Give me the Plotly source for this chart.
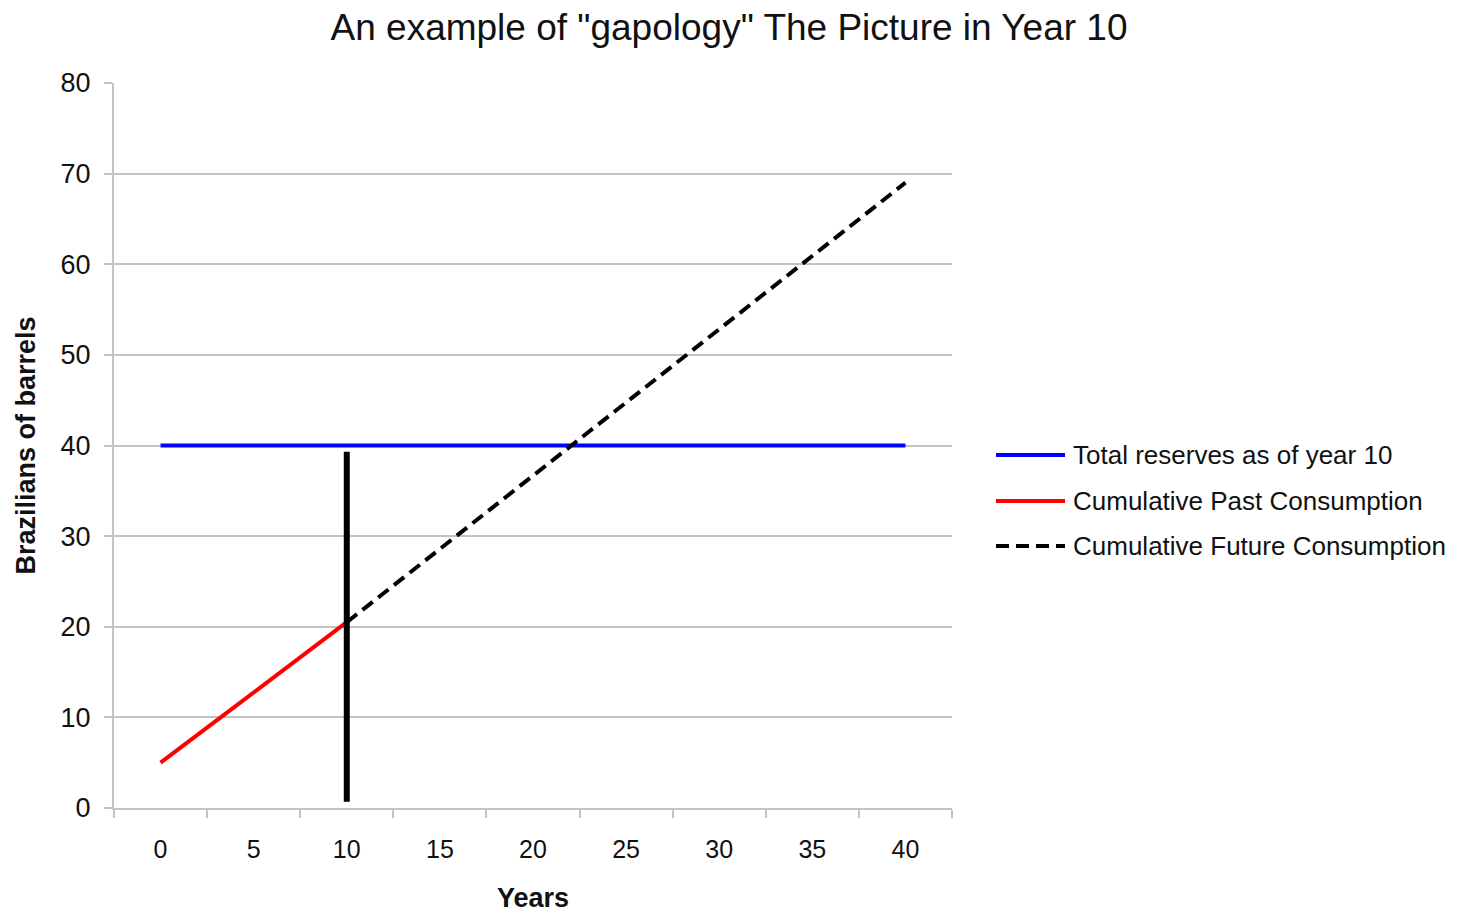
import plotly.graph_objects as go

# Data
reserve_years = [0, 40]
reserve_values = [40, 40]
past_years = [0, 10]
past_values = [5, 20.5]
future_years = [10, 40]
future_values = [20.5, 69]
marker_years = [10, 10]
marker_values = [0.7, 39.3]

x_tick_vals = [0, 5, 10, 15, 20, 25, 30, 35, 40]
x_tick_text = ["0", "5", "10", "15", "20", "25", "30", "35", "40"]
y_tick_vals = [0, 10, 20, 30, 40, 50, 60, 70, 80]

series_names = ["Total reserves as of year 10",
                "Cumulative Past Consumption",
                "Cumulative Future Consumption"]
series_colors = ["#0000ff", "#ff0000", "#000000"]
series_dash = ["solid", "solid", "13px,7px"]

FONT = "Liberation Sans, Arial, sans-serif"
GRID = "#c3c3c3"
TXT = "#111111"

# page body has an 8px margin, so the figure is sized to fit the viewport
W, H = 1456, 905
L, R, T, B = 106, 512, 75, 105
PW, PH = W - L - R, H - T - B


def px_x(px):
    return (px - L) / PW


def px_y(py):
    return (H - B - py) / PH


fig = go.Figure()
fig.add_trace(go.Scatter(x=reserve_years, y=reserve_values, mode="lines",
                         name=series_names[0],
                         line=dict(color=series_colors[0], width=4)))
fig.add_trace(go.Scatter(x=past_years, y=past_values, mode="lines",
                         name=series_names[1],
                         line=dict(color=series_colors[1], width=4)))
fig.add_trace(go.Scatter(x=future_years, y=future_values, mode="lines",
                         name=series_names[2],
                         line=dict(color=series_colors[2], width=4,
                                   dash=series_dash[2])))
fig.add_trace(go.Scatter(x=marker_years, y=marker_values, mode="lines",
                         name="Year 10",
                         line=dict(color="#000000", width=6)))

# manual legend (long line samples as in the original)
legend_rows = [447, 493, 538]
for name, color, dash, row in zip(series_names, series_colors, series_dash, legend_rows):
    fig.add_shape(type="line", xref="paper", yref="paper",
                  x0=px_x(988), x1=px_x(1057), y0=px_y(row), y1=px_y(row),
                  line=dict(color=color, width=4, dash=dash))
    fig.add_annotation(xref="paper", yref="paper", x=px_x(1063), y=px_y(row),
                       xanchor="left", yanchor="middle", showarrow=False,
                       text=name, font=dict(size=26, family=FONT, color=TXT))

fig.update_layout(
    width=W, height=H,
    paper_bgcolor="white", plot_bgcolor="white",
    margin=dict(l=L, r=R, t=T, b=B, autoexpand=False),
    font=dict(family=FONT, color=TXT),
    title=dict(text='An example of "gapology" The Picture in Year 10',
               x=721 / W, xanchor="center", y=1 - 19 / H, yanchor="middle",
               font=dict(size=37, family=FONT, color=TXT)),
    showlegend=False,
    xaxis=dict(range=[-2.5, 42.5], tickvals=x_tick_vals, ticktext=x_tick_text,
               ticks="", showgrid=False, zeroline=False, automargin=False,
               showline=True, linecolor=GRID, linewidth=2,
               tickfont=dict(size=25, family=FONT, color=TXT),
               ticklabelstandoff=18,
               minor=dict(tick0=-2.5, dtick=5, ticks="outside", ticklen=8,
                          tickcolor=GRID, tickwidth=2, showgrid=False),
               title=dict(text="<b>Years</b>", standoff=29,
                          font=dict(size=27, family=FONT, color=TXT))),
    yaxis=dict(range=[0, 80], tickvals=y_tick_vals, ticks="outside",
               ticklen=8, tickcolor=GRID, tickwidth=2, automargin=False,
               showgrid=True, gridcolor=GRID, gridwidth=2, zeroline=False,
               showline=True, linecolor=GRID, linewidth=2,
               tickfont=dict(size=27, family=FONT, color=TXT),
               ticklabelstandoff=8,
               title=dict(text="<b>Brazilians of barrels</b>", standoff=17,
                          font=dict(size=27, family=FONT, color=TXT))),
)

fig.write_html("out.html")
